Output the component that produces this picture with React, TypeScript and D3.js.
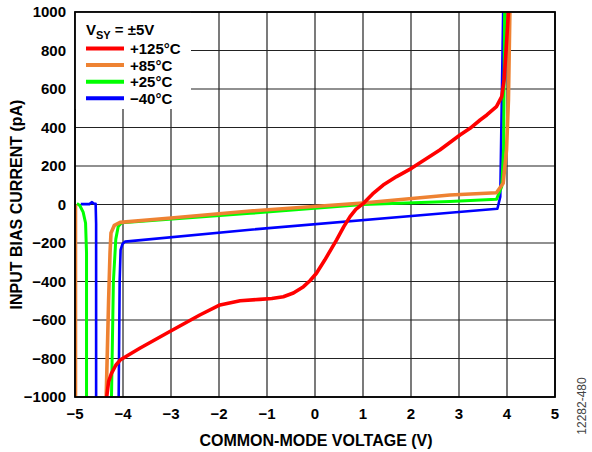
import React from "react";
import * as d3 from "d3";

const xTicks = [-5, -4, -3, -2, -1, 0, 1, 2, 3, 4, 5];
const yTicks = [-1000, -800, -600, -400, -200, 0, 200, 400, 600, 800, 1000];

const red125: [number, number][] = [
  [-4.34, -1000], [-4.3, -920], [-4.24, -877], [-4.15, -835], [-4.06, -808], [-3.65, -747],
  [-3.09, -669], [-2.4, -574], [-1.98, -522], [-1.56, -500], [-1.15, -493], [-0.9, -488],
  [-0.66, -479], [-0.45, -460], [-0.24, -427], [-0.1, -395], [0.03, -357], [0.2, -290],
  [0.45, -184], [0.6, -115], [0.73, -63], [0.85, -25], [1.01, 6], [1.2, 55], [1.42, 101],
  [1.7, 145], [2.01, 188], [2.6, 283], [3.02, 361], [3.23, 396], [3.44, 439], [3.58, 465],
  [3.78, 508], [3.89, 560], [3.94, 647], [3.98, 800], [4.03, 1000],
];
const orange85a: [number, number][] = [[-4.99, 0], [-4.99, -1000]];
const orange85b: [number, number][] = [
  [-4.35, -1000], [-4.3, -500], [-4.27, -250], [-4.25, -148], [-4.18, -108], [-4.06, -93],
  [-3.0, -70], [-1.35, -34], [1.0, 8], [2.81, 49], [3.78, 61], [3.92, 110], [3.99, 283],
  [4.03, 543], [4.06, 1000],
];
const green25a: [number, number][] = [
  [-4.96, 5], [-4.9, -5], [-4.83, -40], [-4.78, -96], [-4.76, -250], [-4.76, -1000],
];
const green25b: [number, number][] = [
  [-4.24, -1000], [-4.2, -400], [-4.15, -180], [-4.1, -115], [-4.03, -95], [-1.35, -46],
  [1.0, 0], [2.81, 15], [3.78, 27], [3.89, 92], [3.93, 300], [3.95, 1000],
];
const blue40a: [number, number][] = [
  [-4.88, 2], [-4.7, 2], [-4.65, 12], [-4.6, 4], [-4.57, 4], [-4.56, -100], [-4.56, -1000],
];
const blue40b: [number, number][] = [
  [-4.09, -1000], [-4.07, -400], [-4.05, -236], [-4.01, -205], [-3.96, -193], [-1.35, -131],
  [2.81, -43], [3.8, -22], [3.86, 40], [3.92, 1000],
];

const series = [
  { label: "\u221240\u00B0C", color: "#0000ff", width: 2.6, parts: [blue40a, blue40b] },
  { label: "+25\u00B0C", color: "#00ff00", width: 3, parts: [green25a, green25b] },
  { label: "+85\u00B0C", color: "#ee8232", width: 3.6, parts: [orange85a, orange85b] },
  { label: "+125\u00B0C", color: "#ff0000", width: 3.6, parts: [red125] },
];
const legendOrder = ["+125\u00B0C", "+85\u00B0C", "+25\u00B0C", "\u221240\u00B0C"];

const W = 592, H = 452;
const L = 75, R = 555, T = 12, B = 397;

export default function App() {
  const x = d3.scaleLinear().domain([-5, 5]).range([L, R]);
  const y = d3.scaleLinear().domain([-1000, 1000]).range([B, T]);
  const line = d3.line<[number, number]>().x((d) => x(d[0])).y((d) => y(d[1]));
  const font = "'Liberation Sans', Arial, sans-serif";
  const fmt = (v: number) => (v < 0 ? "\u2212" + Math.abs(v) : String(v));

  return (
    <svg width={W} height={H} style={{ position: "absolute", left: 0, top: 0, background: "#fff" }}
      fontFamily={font}>
      <defs>
        <clipPath id="plot"><rect x={L} y={T} width={R - L} height={B - T} /></clipPath>
      </defs>
      {xTicks.map((t) => (
        <line key={"gx" + t} x1={x(t)} x2={x(t)} y1={T} y2={B} stroke="#222" strokeWidth={1.2} />
      ))}
      {yTicks.map((t) => (
        <line key={"gy" + t} x1={L} x2={R} y1={y(t)} y2={y(t)} stroke="#222" strokeWidth={1.2} />
      ))}
      <rect x={L} y={T} width={191 - L} height={109 - T} fill="#fff" />
      <g clipPath="url(#plot)">
        {series.map((s) =>
          s.parts.map((p, i) => (
            <path key={s.label + i} d={line(p) || ""} fill="none" stroke={s.color}
              strokeWidth={s.width} strokeLinejoin="round" strokeLinecap="butt" />
          ))
        )}
      </g>
      <rect x={L} y={T} width={R - L} height={B - T} fill="none" stroke="#000" strokeWidth={1.8} />
      {xTicks.map((t) => (
        <text key={"tx" + t} x={x(t)} y={419} textAnchor="middle" fontSize={15} fontWeight="bold">{fmt(t)}</text>
      ))}
      {yTicks.map((t) => (
        <text key={"ty" + t} x={66} y={y(t) + 5} textAnchor="end" fontSize={15} fontWeight="bold">{fmt(t)}</text>
      ))}
      <text x={(L + R) / 2 + 1} y={446} textAnchor="middle" fontSize={16} fontWeight="bold">COMMON-MODE VOLTAGE (V)</text>
      <text transform={`translate(22,${(T + B) / 2}) rotate(-90)`} textAnchor="middle" fontSize={16} fontWeight="bold">INPUT BIAS CURRENT (pA)</text>
      <text x={86} y={35} fontSize={15} fontWeight="bold">
        V<tspan fontSize={11} dy={4}>SY</tspan><tspan dy={-4}> = ±5V</tspan>
      </text>
      {legendOrder.map((lab, i) => {
        const s = series.find((d) => d.label === lab)!;
        const ly = 48.5 + i * 16.6;
        return (
          <g key={"lg" + lab}>
            <line x1={86} x2={124} y1={ly} y2={ly} stroke={s.color} strokeWidth={4} />
            <text x={130} y={ly + 5.5} fontSize={15} fontWeight="bold">{lab}</text>
          </g>
        );
      })}
      <text transform="translate(586,406) rotate(-90)" textAnchor="middle" fontSize={12} fill="#444">12282-480</text>
    </svg>
  );
}
